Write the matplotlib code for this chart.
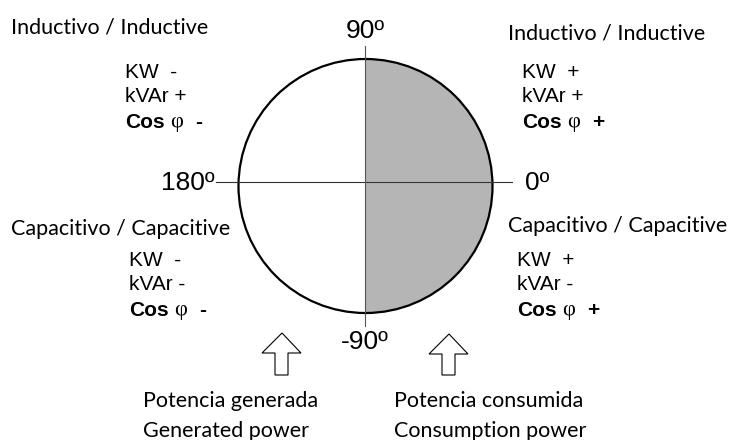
import matplotlib.pyplot as plt
from matplotlib.patches import Circle, Wedge, Polygon

# Quadrant labels (left-top, right-top, left-bottom, right-bottom)
quad_titles = ['Inductivo / Inductive', 'Inductivo / Inductive',
               'Capacitivo / Capacitive', 'Capacitivo / Capacitive']
kw_signs = ['-', '+', '-', '+']
kvar_signs = ['+', '+', '-', '-']
cos_signs = ['-', '+', '-', '+']

# Angle labels
angle_labels = ['0º', '90º', '180º', '-90º']

# Bottom captions
caption_left = ['Potencia generada', 'Generated power']
caption_right = ['Potencia consumida', 'Consumption power']

calibri = 'Lato'
arial = 'Liberation Sans'

fig = plt.figure(figsize=(7.29, 4.4), dpi=100)
ax = fig.add_axes([0, 0, 1, 1])
ax.set_xlim(0, 729)
ax.set_ylim(440, 0)
ax.axis('off')

cx, cy, r = 365.5, 186, 127

# shaded right half (consumed power)
ax.add_patch(Wedge((cx, cy), r, -90, 90, facecolor='#b5b5b5', edgecolor='none'))
ax.add_patch(Circle((cx, cy), r, facecolor='none', edgecolor='black', lw=1.6))

# axes lines
ax.plot([216, 512], [182, 182], color='#333333', lw=0.8)
ax.plot([365, 365], [46, 326], color='#555555', lw=0.8)

# angle labels
ax.text(525, 183, angle_labels[0], fontsize=19, family=arial, ha='left', va='center')
ax.text(365, 31, angle_labels[1], fontsize=19, family=arial, ha='center', va='center')
ax.text(215, 183, angle_labels[2], fontsize=19, family=arial, ha='right', va='center')
ax.text(365, 342, angle_labels[3], fontsize=19, family=arial, ha='center', va='center')

# quadrant titles
title_pos = [(11, 27), (508, 33), (11, 229), (508, 226)]
for (x, y), t in zip(title_pos, quad_titles):
    ax.text(x, y, t, fontsize=15.5, family=calibri, ha='left', va='center')

# sign blocks
block_pos = [(125, 72), (522, 72), (129, 260), (517, 260)]
for (x, y), kw, kv, cs in zip(block_pos, kw_signs, kvar_signs, cos_signs):
    ax.text(x, y, 'KW  ' + kw, fontsize=15, family=arial, ha='left', va='center')
    ax.text(x, y + 25, 'kVAr ' + kv, fontsize=15, family=arial, ha='left', va='center')
    ax.text(x, y + 50, 'Cos', fontsize=15, family=arial, weight='bold',
            ha='left', va='center')
    ax.text(x + 45, y + 51, 'φ', fontsize=16, family='Liberation Serif',
            ha='left', va='center')
    ax.text(x + 70, y + 50, cs, fontsize=15, family=arial, weight='bold',
            ha='left', va='center')

# hollow arrows
def up_arrow(xc, tip):
    pts = [(xc, tip), (xc + 19, tip + 20), (xc + 6, tip + 20), (xc + 6, 375),
           (xc - 7, 375), (xc - 7, tip + 20), (xc - 20, tip + 20)]
    ax.add_patch(Polygon(pts, closed=True, facecolor='white', edgecolor='black', lw=0.8))

up_arrow(282, 333)
up_arrow(449, 334)

# captions
for i, line in enumerate(caption_left):
    ax.text(143, 401 + 30 * i, line, fontsize=15.5, family=calibri, ha='left', va='center')
for i, line in enumerate(caption_right):
    ax.text(394, 401 + 30 * i, line, fontsize=15.5, family=calibri, ha='left', va='center')

fig.savefig('out.png', dpi=100, facecolor='white')
